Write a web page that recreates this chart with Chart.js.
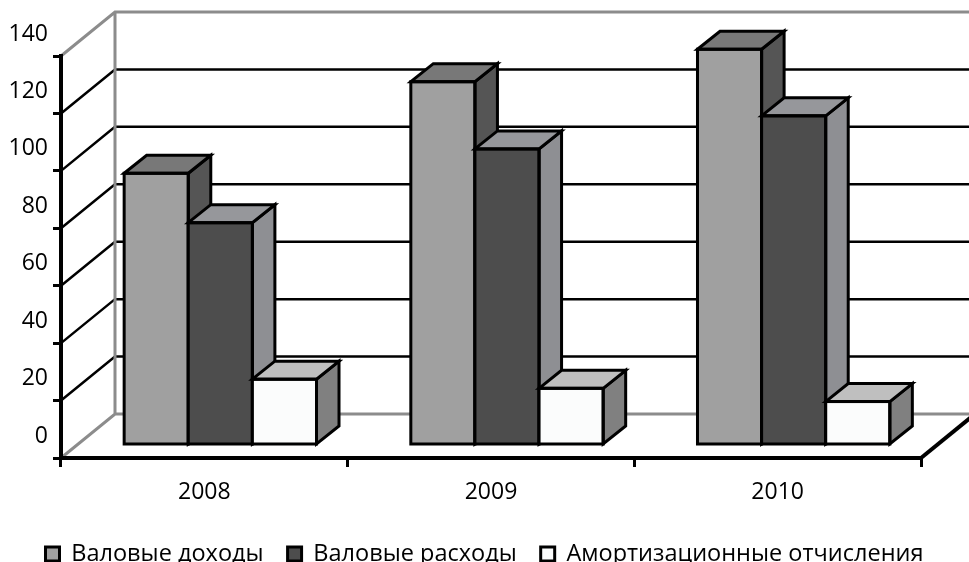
<!DOCTYPE html>
<html>
<head>
<meta charset="utf-8">
<script src="https://cdn.jsdelivr.net/npm/chart.js@4.4.1/dist/chart.umd.min.js"></script>
<style>
  html, body { margin: 0; padding: 0; background: #fff; }
  #wrap { width: 969px; height: 562px; }
</style>
</head>
<body>
<div id="wrap"><canvas id="c" width="969" height="562"></canvas></div>
<script>
const categories = ['2008', '2009', '2010'];
const seriesNames = ['Валовые доходы', 'Валовые расходы', 'Амортизационные отчисления'];
const grossIncome = [94.8, 126.7, 138.0];
const grossExpenses = [77.6, 103.3, 114.8];
const depreciation = [23.1, 19.9, 15.3];
const valueTicks = [0, 20, 40, 60, 80, 100, 120, 140];

// shading of each series: front face, top face, side face
const faceColors = [
  { front: '#a0a0a0', top: '#787878', side: '#555555' },
  { front: '#4d4d4d', top: '#96979b', side: '#8e8f93' },
  { front: '#fbfcfc', top: '#bfbfbf', side: '#808080' }
];

const WALL_DX = 54, WALL_DY = -44;   // depth of floor and side wall
const ROW_DX = 16, ROW_DY = -12.5;   // the bar row stands a little behind the front edge
const BAR_DX = 22.5, BAR_DY = -18;   // bar thickness in depth
const FONT = 'Open Sans';

// back wall, side wall, floor and their gridlines
const walls = {
  id: 'walls',
  beforeDraw(chart) {
    const { ctx, chartArea: a, scales: { y } } = chart;
    const vMin = valueTicks[0], vMax = valueTicks[valueTicks.length - 1];
    const yTop = y.getPixelForValue(vMax), yBot = y.getPixelForValue(vMin);
    const backX = a.left + WALL_DX, farRight = a.right + WALL_DX;
    ctx.save();
    ctx.fillStyle = '#fff';
    ctx.fillRect(0, 0, chart.width, chart.height);
    ctx.lineJoin = 'miter';

    ctx.strokeStyle = '#000';
    ctx.lineWidth = 2.5;
    valueTicks.forEach(v => {
      if (v === vMin || v === vMax) return;
      const py = y.getPixelForValue(v);
      ctx.beginPath();
      ctx.moveTo(a.left, py);
      ctx.lineTo(backX, py + WALL_DY);
      ctx.lineTo(farRight, py + WALL_DY);
      ctx.stroke();
    });

    ctx.strokeStyle = '#8c8c8c';
    ctx.lineWidth = 3;
    ctx.beginPath();
    ctx.moveTo(a.left, yTop);
    ctx.lineTo(backX, yTop + WALL_DY);
    ctx.lineTo(farRight, yTop + WALL_DY);
    ctx.moveTo(backX, yTop + WALL_DY);
    ctx.lineTo(backX, yBot + WALL_DY);
    ctx.moveTo(a.left, yBot);
    ctx.lineTo(backX, yBot + WALL_DY);
    ctx.lineTo(farRight, yBot + WALL_DY);
    ctx.stroke();

    ctx.strokeStyle = '#000';
    ctx.lineWidth = 4;
    ctx.beginPath();
    ctx.moveTo(a.right, yBot);
    ctx.lineTo(farRight, yBot + WALL_DY);
    ctx.stroke();
    ctx.restore();
  }
};

// extruded bars: front face from the bar element, then side and top faces
const bars3d = {
  id: 'bars3d',
  beforeDatasetsDraw(chart) {
    const ctx = chart.ctx;
    ctx.save();
    ctx.translate(ROW_DX, ROW_DY);
    ctx.lineWidth = 3;
    ctx.strokeStyle = '#000';
    ctx.lineJoin = 'miter';
    categories.forEach((c, i) => {
      chart.data.datasets.forEach((ds, d) => {
        const el = chart.getDatasetMeta(d).data[i];
        const p = el.getProps(['x', 'y', 'base', 'width'], true);
        const l = p.x - p.width / 2, r = p.x + p.width / 2, t = p.y, b = p.base;
        const col = faceColors[d];
        el.draw(ctx);

        ctx.beginPath();
        ctx.moveTo(r, t);
        ctx.lineTo(r + BAR_DX, t + BAR_DY);
        ctx.lineTo(r + BAR_DX, b + BAR_DY);
        ctx.lineTo(r, b);
        ctx.closePath();
        ctx.fillStyle = col.side;
        ctx.fill();
        ctx.stroke();

        ctx.beginPath();
        ctx.moveTo(l, t);
        ctx.lineTo(l + BAR_DX, t + BAR_DY);
        ctx.lineTo(r + BAR_DX, t + BAR_DY);
        ctx.lineTo(r, t);
        ctx.closePath();
        ctx.fillStyle = col.top;
        ctx.fill();
        ctx.stroke();

        ctx.strokeRect(l, t, r - l, b - t);
      });
    });
    ctx.restore();
    return false;
  }
};

const seriesData = [grossIncome, grossExpenses, depreciation];

new Chart(document.getElementById('c'), {
  type: 'bar',
  data: {
    labels: categories,
    datasets: seriesData.map((vals, d) => ({
      label: seriesNames[d],
      data: vals,
      backgroundColor: faceColors[d].front,
      borderWidth: 0
    }))
  },
  options: {
    responsive: false,
    animation: false,
    devicePixelRatio: 1,
    layout: { padding: { top: 56, right: 0, left: 0, bottom: -13.75 } },
    datasets: { bar: { categoryPercentage: 0.671, barPercentage: 1 } },
    plugins: {
      tooltip: { enabled: false },
      legend: {
        position: 'bottom',
        labels: {
          color: '#000',
          font: { family: FONT, size: 23.5 },
          boxWidth: 14,
          boxHeight: 14,
          padding: 24,
          generateLabels(chart) {
            const items = Chart.defaults.plugins.legend.labels.generateLabels(chart);
            items.forEach(it => { it.lineWidth = 3; it.strokeStyle = '#000'; });
            return items;
          }
        }
      }
    },
    scales: {
      x: {
        grid: { display: true, drawOnChartArea: false, drawTicks: true, tickLength: 9, color: '#000', lineWidth: 3, offset: true },
        border: { display: true, color: '#000', width: 4 },
        ticks: { color: '#000', font: { family: FONT, size: 23 }, padding: 12 },
        afterFit(s) { s.height = 60.25; }
      },
      y: {
        min: valueTicks[0],
        max: valueTicks[valueTicks.length - 1],
        ticks: { stepSize: 20, color: '#000', font: { family: FONT, size: 23 }, padding: 5, labelOffset: -22 },
        grid: { drawOnChartArea: false, drawTicks: true, tickLength: 8, color: '#000', lineWidth: 3 },
        border: { display: true, color: '#000', width: 4 },
        afterFit(s) { s.width = 61; }
      },
      // empty strip on the right that holds the receding floor and walls
      depth: {
        position: 'right',
        grid: { display: false },
        ticks: { display: false },
        border: { display: false },
        afterFit(s) { s.width = 48; }
      }
    }
  },
  plugins: [walls, bars3d]
});
</script>
</body>
</html>
